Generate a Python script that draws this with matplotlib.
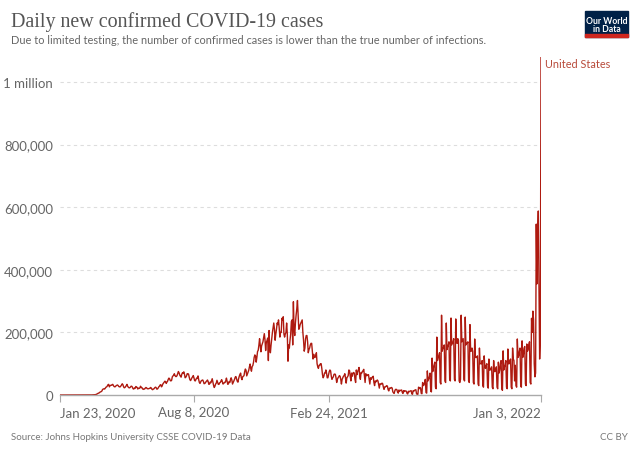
import numpy as np
import pandas as pd
import matplotlib
matplotlib.use("Agg")
import matplotlib.pyplot as plt
import matplotlib.dates as mdates
from matplotlib.patches import Rectangle
from matplotlib.ticker import FixedLocator

# daily new cases, thousands; one row per week starting on Thursday
spring_2020 = [
    0, 0, 0, 0, 0, 0, 0,
    0, 0, 0, 0, 0, 0, 0,
    0, 0, 0, 0, 0, 0, 0,
    0, 0, 0, 0, 0, 0, 0,
    0, 0, 0, 0, 0, 0, 0,
    0, 0, 0, 0, 0, 0, 0.1,
    0.1, 0.1, 0.1, 0.1, 0.2, 0.3, 0.4,
    0.5, 0.7, 0.9, 1.0, 1.5, 2.5, 3.5,
    5, 6, 7, 9, 10, 11, 13,
    18, 19, 20, 19, 22, 25, 26,
    29, 33, 34, 26, 30, 31, 31,
    33, 34, 30, 27, 26, 27, 30,
    31, 32, 30, 27, 26, 26, 29,
    32, 36, 33, 26, 23, 24, 27,
    30, 34, 28, 25, 23, 23, 25,
    28, 28, 25, 20, 19, 22, 21,
    27, 26, 24, 19, 22, 21, 22,
    28, 24, 24, 20, 18, 19, 19,
    22, 24, 23, 20, 20, 20, 21,
    22, 24, 22, 18, 17, 19, 20,
    23, 25, 24, 19, 19, 22, 26,
    28, 32, 33, 26, 29, 35, 38,
    41, 44, 43, 37, 41, 44, 50,
]
summer_2020 = [
    54, 52, 46, 45, 47, 58, 61,
    63, 68, 62, 59, 59, 62, 68,
    75, 71, 64, 60, 57, 66, 71,
    70, 74, 66, 55, 57, 61, 68,
    68, 67, 57, 49, 46, 50, 55,
    58, 62, 55, 46, 45, 50, 54,
    53, 61, 49, 40, 37, 42, 46,
    47, 48, 43, 36, 37, 39, 43,
    45, 48, 43, 34, 35, 41, 39,
    45, 52, 42, 31, 24, 28, 35,
    38, 47, 41, 34, 34, 39, 40,
    45, 49, 42, 35, 37, 40, 40,
    45, 54, 44, 34, 36, 43, 40,
]
winter_2020 = [
    49, 55, 48, 35, 40, 45, 50,
    57, 59, 51, 44, 41, 52, 60,
    66, 70, 55, 49, 58, 60, 62,
    75, 83, 79, 61, 67, 74, 79,
    90, 99, 84, 76, 91, 94, 104,
    120, 128, 125, 105, 120, 139, 143,
    159, 180, 160, 138, 157, 163, 170,
    184, 196, 177, 142, 168, 174, 182,
    110, 206, 150, 135, 160, 180, 200,
    215, 230, 210, 175, 195, 210, 230,
    225, 240, 215, 185, 200, 200, 245,
    240, 250, 195, 185, 195, 200, 230,
    195, 108, 160, 150, 175, 195, 235,
    240, 160, 298, 210, 190, 230, 255,
    275, 302, 255, 210, 215, 225, 230,
    235, 240, 200, 175, 140, 150, 180,
    190, 190, 170, 135, 145, 150, 160,
    165, 165, 140, 115, 130, 120, 120,
    125, 135, 100, 90, 85, 95, 95,
    100, 100, 85, 65, 55, 60, 70,
    70, 80, 70, 55, 55, 65, 75,
    80, 77, 60, 50, 55, 58, 66,
]
spring_2021 = [
    67, 66, 55, 40, 50, 55, 58,
    62, 60, 50, 35, 50, 55, 60,
    62, 68, 55, 38, 55, 58, 62,
    80, 78, 60, 45, 70, 60, 70,
    72, 70, 50, 40, 80, 65, 75,
    80, 88, 60, 50, 72, 70, 75,
    78, 82, 60, 40, 68, 62, 62,
    65, 65, 50, 35, 55, 50, 55,
    58, 60, 40, 30, 45, 42, 45,
    48, 45, 33, 22, 36, 34, 35,
    38, 36, 25, 18, 26, 26, 28,
    30, 28, 17, 13, 22, 21, 23,
    24, 22, 10, 7, 5, 14, 18,
    18, 17, 9, 6, 16, 12, 15,
    15, 16, 8, 5, 14, 11, 13,
    13, 12, 5, 3, 12, 10, 12,
    13, 14, 4, 2, 14, 12, 15,
    16, 17, 4, 2, 2, 25, 20,
]
delta_2021 = [
    24, 22, 5, 4, 40, 30, 32,
    40, 50, 8, 6, 77, 45, 52,
    58, 70, 12, 10, 118, 75, 88,
    95, 105, 25, 20, 185, 110, 120,
    125, 135, 40, 35, 255, 140, 150,
    150, 160, 45, 40, 230, 145, 155,
    160, 170, 50, 45, 246, 160, 165,
    170, 180, 50, 45, 243, 170, 165,
    180, 175, 45, 40, 50, 255, 170,
    175, 180, 50, 45, 249, 160, 165,
    165, 170, 45, 40, 225, 140, 140,
    150, 140, 40, 35, 179, 120, 120,
    120, 125, 35, 30, 150, 100, 100,
    100, 110, 30, 25, 125, 90, 85,
    95, 100, 28, 22, 115, 80, 80,
    85, 90, 25, 20, 110, 75, 75,
    80, 90, 25, 20, 105, 70, 80,
]
omicron_2021 = [
    100, 110, 20, 15, 141, 80, 90,
    95, 110, 25, 20, 147, 100, 100,
    110, 115, 25, 20, 150, 115, 110,
    45, 95, 30, 25, 179, 120, 125,
    140, 150, 30, 25, 173, 120, 130,
    150, 155, 35, 30, 163, 140, 145,
    160, 170, 40, 35, 245, 200, 268,
    240, 100, 58, 70, 546, 355, 500,
    588, 360, 115, 180, 1080,
]

dates = pd.date_range("2020-01-23", "2022-01-03", freq="D")
cases = np.array(spring_2020 + summer_2020 + winter_2020 + spring_2021
                 + delta_2021 + omicron_2021) * 1000

tick_dates = ["2020-01-23", "2020-08-08", "2021-02-24", "2022-01-03"]
tick_labels = ["Jan 23, 2020", "Aug 8, 2020", "Feb 24, 2021", "Jan 3, 2022"]
y_ticks = [0, 200000, 400000, 600000, 800000, 1000000]
y_labels = ["0", "200,000", "400,000", "600,000", "800,000", "1 million"]

LINE = "#ae1a10"
GREY = "#666666"
W, H = 640, 452

fig = plt.figure(figsize=(W / 100, H / 100), dpi=100)
ax = fig.add_axes([60 / W, 1 - 396 / H, 481 / W, 338 / H])

ax.plot(dates, cases, color=LINE, lw=1.0, solid_joinstyle="round")
ax.set_xlim(dates[0], dates[-1])
ax.set_ylim(0, 1080000)

for s in ["top", "right", "left"]:
    ax.spines[s].set_visible(False)
ax.spines["bottom"].set_color("#aaaaaa")
ax.spines["bottom"].set_linewidth(1.0)

ax.yaxis.set_major_locator(FixedLocator(y_ticks))
ax.set_yticklabels(y_labels)
ax.tick_params(axis="y", length=0, pad=5, labelsize=9.5, labelcolor=GREY)
for yv in y_ticks[1:]:
    ax.axhline(yv, color="#dddddd", lw=0.8, ls=(0, (3, 3)), zorder=0)

xt = [mdates.date2num(pd.Timestamp(d)) for d in tick_dates]
ax.set_xticks(xt)
ax.set_xticklabels(tick_labels)
ax.tick_params(axis="x", length=5, color="#aaaaaa", pad=3, labelsize=9.5,
               labelcolor=GREY)
xl = ax.get_xticklabels()
xl[0].set_horizontalalignment("left")
xl[-1].set_horizontalalignment("right")

for t in ax.get_xticklabels() + ax.get_yticklabels():
    t.set_fontfamily("Lato")

ax.annotate("United States", (dates[-1], 1080000), xytext=(3, -1),
            textcoords="offset points", fontsize=7.8, color="#b84a3a",
            family="Lato", ha="left", va="top", annotation_clip=False)

fig.text(11 / W, 1 - 27 / H, "Daily new confirmed COVID-19 cases",
         family="Liberation Serif", fontsize=14.4, color="#555555", va="baseline")
fig.text(11 / W, 1 - 44 / H,
         "Due to limited testing, the number of confirmed cases is lower than the true number of infections.",
         family="Lato", fontsize=7.9, color=GREY, va="baseline")
fig.text(11 / W, 1 - 440 / H, "Source: Johns Hopkins University CSSE COVID-19 Data",
         family="Lato", fontsize=7.0, color="#777777", va="baseline")
fig.text(628 / W, 1 - 440 / H, "CC BY", family="Lato", fontsize=7.0,
         color="#777777", ha="right", va="baseline")

# logo
fig.patches.append(Rectangle((585 / W, 1 - 38 / H), 43 / W, 26 / H,
                             transform=fig.transFigure, color="#002147"))
fig.patches.append(Rectangle((585 / W, 1 - 38 / H), 43 / W, 3 / H,
                             transform=fig.transFigure, color="#ce261e"))
fig.text(606.5 / W, 1 - 21 / H, "Our World", family="Lato", weight="bold",
         fontsize=6.2, color="white", ha="center", va="center")
fig.text(606.5 / W, 1 - 30 / H, "in Data", family="Lato", weight="bold",
         fontsize=6.2, color="white", ha="center", va="center")

fig.savefig("out.png", dpi=100)
